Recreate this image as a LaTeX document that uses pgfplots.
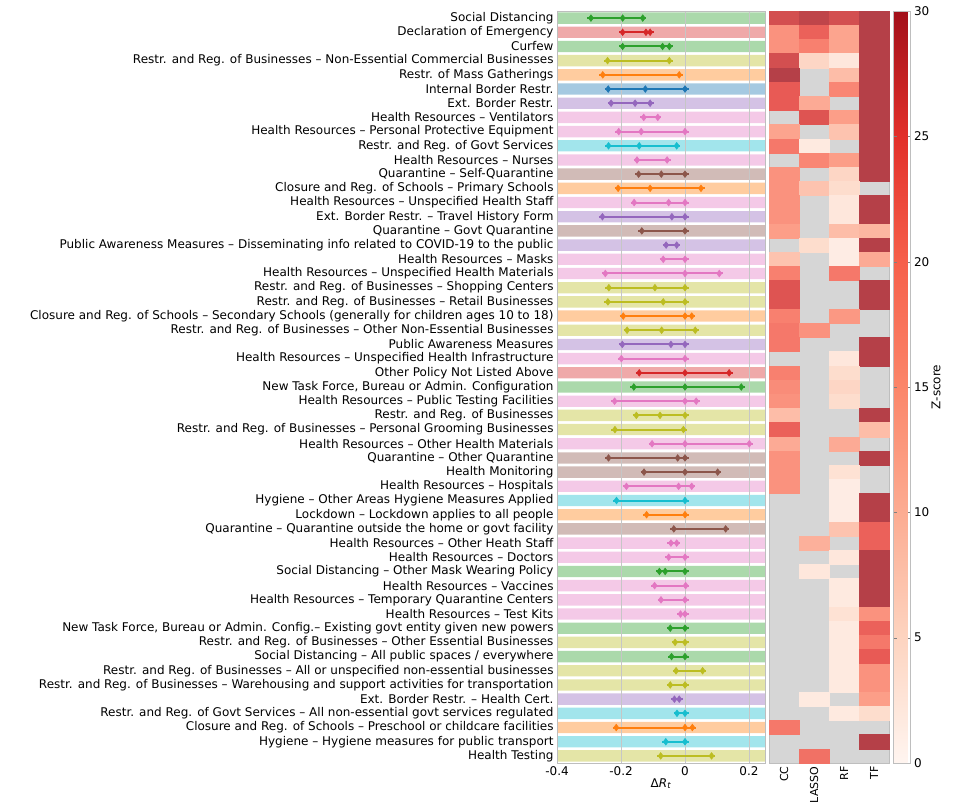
\documentclass[border=0pt]{standalone}
\usepackage{fontspec}
\setmainfont{DejaVu Sans}
\usepackage{pgfplots}
\pgfplotsset{compat=1.18}

\definecolor{tblue}{HTML}{1F77B4}
\definecolor{torange}{HTML}{FF7F0E}
\definecolor{tgreen}{HTML}{2CA02C}
\definecolor{tred}{HTML}{D62728}
\definecolor{tpurple}{HTML}{9467BD}
\definecolor{tbrown}{HTML}{8C564B}
\definecolor{tpink}{HTML}{E377C2}
\definecolor{tolive}{HTML}{BCBD22}
\definecolor{tcyan}{HTML}{17BECF}
\definecolor{cellgray}{RGB}{214,214,214}
\definecolor{framegray}{RGB}{190,190,190}

\newcommand\lbl{\fontsize{12bp}{14bp}\selectfont}

% one row: colour, row number, points (lower, centre, upper)
\newcommand\prow[3]{%
  \addplot[xbar, bar shift=0pt, bar width=0.8, fill=#1!40, draw=none,
    on layer=axis background, forget plot] coordinates {(0.25,#2) (-0.4,#2)};
  \addplot[#1, line width=2bp, mark=diamond*, mark size=3.3bp,
    mark options={fill=#1, draw=#1, line width=0.6bp},
    shorten <=-3.5bp, shorten >=-3.5bp] coordinates {#3};
}

\begin{document}
\begin{tikzpicture}

\begin{axis}[
  at={(557bp,40bp)}, anchor=south west, scale only axis,
  width=208bp, height=752bp,
  set layers,
  xmin=-0.4, xmax=0.25, ymin=0.5, ymax=53.5, y dir=reverse,
  axis line style={framegray},
  tick style={draw=none},
  tick label style={font=\lbl},
  xtick={-0.4,-0.2,0,0.2}, xticklabels={-0.4,-0.2,0,0.2},
  xmajorgrids, major grid style={gray!45, line width=0.5bp},
  xlabel={Δ\textit{R}\textsubscript{\textit{t}}},
  xlabel style={font=\lbl, yshift=4bp},
  ytick={1,...,53},
  yticklabels={
    {Social Distancing},
    {Declaration of Emergency},
    {Curfew},
    {Restr. and Reg. of Businesses – Non-Essential Commercial Businesses},
    {Restr. of Mass Gatherings},
    {Internal Border Restr.},
    {Ext. Border Restr.},
    {Health Resources – Ventilators},
    {Health Resources – Personal Protective Equipment},
    {Restr. and Reg. of Govt Services},
    {Health Resources – Nurses},
    {Quarantine – Self-Quarantine},
    {Closure and Reg. of Schools – Primary Schools},
    {Health Resources – Unspecified Health Staff},
    {Ext. Border Restr. – Travel History Form},
    {Quarantine – Govt Quarantine},
    {Public Awareness Measures – Disseminating info related to COVID-19 to the public},
    {Health Resources – Masks},
    {Health Resources – Unspecified Health Materials},
    {Restr. and Reg. of Businesses – Shopping Centers},
    {Restr. and Reg. of Businesses – Retail Businesses},
    {Closure and Reg. of Schools – Secondary Schools (generally for children ages 10 to 18)},
    {Restr. and Reg. of Businesses – Other Non-Essential Businesses},
    {Public Awareness Measures},
    {Health Resources – Unspecified Health Infrastructure},
    {Other Policy Not Listed Above},
    {New Task Force, Bureau or Admin. Configuration},
    {Health Resources – Public Testing Facilities},
    {Restr. and Reg. of Businesses},
    {Restr. and Reg. of Businesses – Personal Grooming Businesses},
    {Health Resources – Other Health Materials},
    {Quarantine – Other Quarantine},
    {Health Monitoring},
    {Health Resources – Hospitals},
    {Hygiene – Other Areas Hygiene Measures Applied},
    {Lockdown – Lockdown applies to all people},
    {Quarantine – Quarantine outside the home or govt facility},
    {Health Resources – Other Heath Staff},
    {Health Resources – Doctors},
    {Social Distancing – Other Mask Wearing Policy},
    {Health Resources – Vaccines},
    {Health Resources – Temporary Quarantine Centers},
    {Health Resources – Test Kits},
    {New Task Force, Bureau or Admin. Config.– Existing govt entity given new powers},
    {Restr. and Reg. of Businesses – Other Essential Businesses},
    {Social Distancing – All public spaces / everywhere},
    {Restr. and Reg. of Businesses – All or unspecified non-essential businesses},
    {Restr. and Reg. of Businesses – Warehousing and support activities for transportation},
    {Ext. Border Restr. – Health Cert.},
    {Restr. and Reg. of Govt Services – All non-essential govt services regulated},
    {Closure and Reg. of Schools – Preschool or childcare facilities},
    {Hygiene – Hygiene measures for public transport},
    {Health Testing}},
]
\prow{tgreen}{1}{(-0.294,1) (-0.195,1) (-0.132,1)}
\prow{tred}{2}{(-0.195,2) (-0.122,2) (-0.109,2)}
\prow{tgreen}{3}{(-0.195,3) (-0.070,3) (-0.049,3)}
\prow{tolive}{4}{(-0.242,4) (-0.049,4)}
\prow{torange}{5}{(-0.257,5) (-0.018,5)}
\prow{tblue}{6}{(-0.240,6) (-0.124,6) (0,6)}
\prow{tpurple}{7}{(-0.231,7) (-0.156,7) (-0.109,7)}
\prow{tpink}{8}{(-0.129,8) (-0.085,8)}
\prow{tpink}{9}{(-0.207,9) (-0.137,9) (0,9)}
\prow{tcyan}{10}{(-0.239,10) (-0.143,10) (-0.026,10)}
\prow{tpink}{11}{(-0.150,11) (-0.056,11)}
\prow{tbrown}{12}{(-0.145,12) (-0.074,12) (0,12)}
\prow{torange}{13}{(-0.209,13) (-0.109,13) (0.050,13)}
\prow{tpink}{14}{(-0.159,14) (-0.051,14) (0,14)}
\prow{tpurple}{15}{(-0.258,15) (-0.041,15) (0,15)}
\prow{tbrown}{16}{(-0.135,16) (0,16)}
\prow{tpurple}{17}{(-0.059,17) (-0.026,17)}
\prow{tpink}{18}{(-0.068,18) (0,18)}
\prow{tpink}{19}{(-0.249,19) (0,19) (0.107,19)}
\prow{tolive}{20}{(-0.238,20) (-0.094,20) (0,20)}
\prow{tolive}{21}{(-0.241,21) (-0.068,21) (0,21)}
\prow{torange}{22}{(-0.193,22) (0,22) (0.021,22)}
\prow{tolive}{23}{(-0.181,23) (-0.073,23) (0.032,23)}
\prow{tpurple}{24}{(-0.196,24) (-0.044,24) (0,24)}
\prow{tpink}{25}{(-0.199,25) (0,25)}
\prow{tred}{26}{(-0.143,26) (0,26) (0.138,26)}
\prow{tgreen}{27}{(-0.160,27) (0,27) (0.176,27)}
\prow{tpink}{28}{(-0.220,28) (0,28) (0.035,28)}
\prow{tolive}{29}{(-0.152,29) (-0.078,29) (0,29)}
\prow{tolive}{30}{(-0.219,30) (-0.005,30)}
\prow{tpink}{31}{(-0.103,31) (0,31) (0.201,31)}
\prow{tbrown}{32}{(-0.239,32) (-0.023,32) (0,32)}
\prow{tbrown}{33}{(-0.128,33) (0,33) (0.102,33)}
\prow{tpink}{34}{(-0.183,34) (-0.020,34) (0.021,34)}
\prow{tcyan}{35}{(-0.214,35) (0,35)}
\prow{torange}{36}{(-0.120,36) (0,36)}
\prow{tbrown}{37}{(-0.035,37) (0.127,37)}
\prow{tpink}{38}{(-0.044,38) (-0.026,38)}
\prow{tpink}{39}{(-0.051,39) (0,39)}
\prow{tgreen}{40}{(-0.080,40) (-0.062,40) (0,40)}
\prow{tpink}{41}{(-0.095,41) (0.002,41)}
\prow{tpink}{42}{(-0.075,42) (0,42)}
\prow{tpink}{43}{(-0.014,43) (0,43)}
\prow{tgreen}{44}{(-0.046,44) (0,44)}
\prow{tolive}{45}{(-0.031,45) (0,45)}
\prow{tgreen}{46}{(-0.042,46) (0,46)}
\prow{tolive}{47}{(-0.028,47) (0.055,47)}
\prow{tolive}{48}{(-0.046,48) (0,48)}
\prow{tpurple}{49}{(-0.033,49) (-0.018,49)}
\prow{tcyan}{50}{(-0.025,50) (0,50)}
\prow{torange}{51}{(-0.215,51) (0,51) (0.023,51)}
\prow{tcyan}{52}{(-0.060,52) (0,52)}
\prow{tolive}{53}{(-0.076,53) (0.083,53)}
\end{axis}

\begin{axis}[
  at={(769bp,40bp)}, anchor=south west, scale only axis,
  width=120bp, height=752bp,
  xmin=-0.5, xmax=3.5, ymin=0.5, ymax=53.5, y dir=reverse,
  axis background/.style={fill=cellgray},
  axis line style={framegray},
  xtick={0,1,2,3}, xticklabels={CC,LASSO,RF,TF},
  xticklabel style={rotate=90, anchor=east, font=\fontsize{11bp}{13bp}\selectfont},
  xtick style={draw=none},
  ytick=\empty,
  colormap={zs}{rgb255=(255,245,240) rgb255=(253,212,192) rgb255=(252,172,146)
    rgb255=(251,134,106) rgb255=(246,96,75) rgb255=(226,48,42) rgb255=(162,16,26)},
  point meta min=0, point meta max=30,
  colorbar,
  colorbar style={
    at={(parent axis.north east)}, anchor=north west, xshift=-4bp,
    width=17bp,
    axis line style={framegray},
    ytick={0,5,10,15,20,25,30}, yticklabels={0,5,10,15,20,25,30},
    yticklabel style={font=\lbl},
    ytick style={gray}, major tick length=3bp,
  },
]
\addplot[scatter, only marks, mark=square*, mark size=7.1bp,
  mark options={xscale=2.114, line width=0.3bp},
  scatter/use mapped color={draw=mapped color!80!white, fill=mapped color!80!white},
  point meta=explicit] coordinates {
  (0,1) [27] (1,1) [29] (2,1) [27] (3,1) [30]
  (0,2) [17] (1,2) [24] (2,2) [14] (3,2) [30]
  (0,3) [17] (1,3) [20] (2,3) [14] (3,3) [30]
  (0,4) [27] (1,4) [6] (2,4) [3] (3,4) [30]
  (0,5) [30] (2,5) [10] (3,5) [30]
  (0,6) [25] (2,6) [19] (3,6) [30]
  (0,7) [25] (1,7) [13] (3,7) [30]
  (1,8) [26] (2,8) [15] (3,8) [30]
  (0,9) [14] (2,9) [9] (3,9) [30]
  (0,10) [21] (1,10) [2.5] (3,10) [30]
  (1,11) [19] (2,11) [15] (3,11) [30]
  (0,12) [17] (2,12) [6] (3,12) [30]
  (0,13) [17] (1,13) [9] (2,13) [5]
  (0,14) [17] (2,14) [3] (3,14) [30]
  (0,15) [17] (2,15) [3] (3,15) [30]
  (0,16) [15] (2,16) [10] (3,16) [11]
  (1,17) [5] (2,17) [2] (3,17) [30]
  (0,18) [9] (2,18) [2] (3,18) [13]
  (0,19) [20] (2,19) [21]
  (0,20) [26] (3,20) [30]
  (0,21) [26] (3,21) [30]
  (0,22) [20] (2,22) [16]
  (0,23) [21] (1,23) [17]
  (0,24) [21] (3,24) [30]
  (2,25) [3] (3,25) [30]
  (0,26) [20] (2,26) [5]
  (0,27) [18] (2,27) [6]
  (0,28) [17] (2,28) [5]
  (0,29) [10] (3,29) [30]
  (0,30) [24] (3,30) [10]
  (0,31) [13] (2,31) [13]
  (0,32) [17] (3,32) [30]
  (0,33) [17] (2,33) [4]
  (0,34) [17] (2,34) [2]
  (2,35) [2] (3,35) [30]
  (2,36) [2] (3,36) [30]
  (2,37) [9] (3,37) [24]
  (1,38) [12] (3,38) [24]
  (2,39) [3] (3,39) [30]
  (1,40) [3] (3,40) [30]
  (2,41) [2.5] (3,41) [30]
  (2,42) [2.5] (3,42) [30]
  (2,43) [4] (3,43) [17]
  (2,44) [2.5] (3,44) [24]
  (2,45) [2.5] (3,45) [21]
  (2,46) [2.5] (3,46) [25]
  (2,47) [2.5] (3,47) [17]
  (2,48) [2.5] (3,48) [17]
  (1,49) [2.5] (3,49) [15]
  (2,50) [2.5] (3,50) [5]
  (0,51) [21]
  (3,52) [30]
  (1,53) [22]
};
\end{axis}

\node[rotate=90, font=\lbl] at (936bp,416bp) {Z-score};
\path (0,0) (955bp,803bp);
\end{tikzpicture}
\end{document}
